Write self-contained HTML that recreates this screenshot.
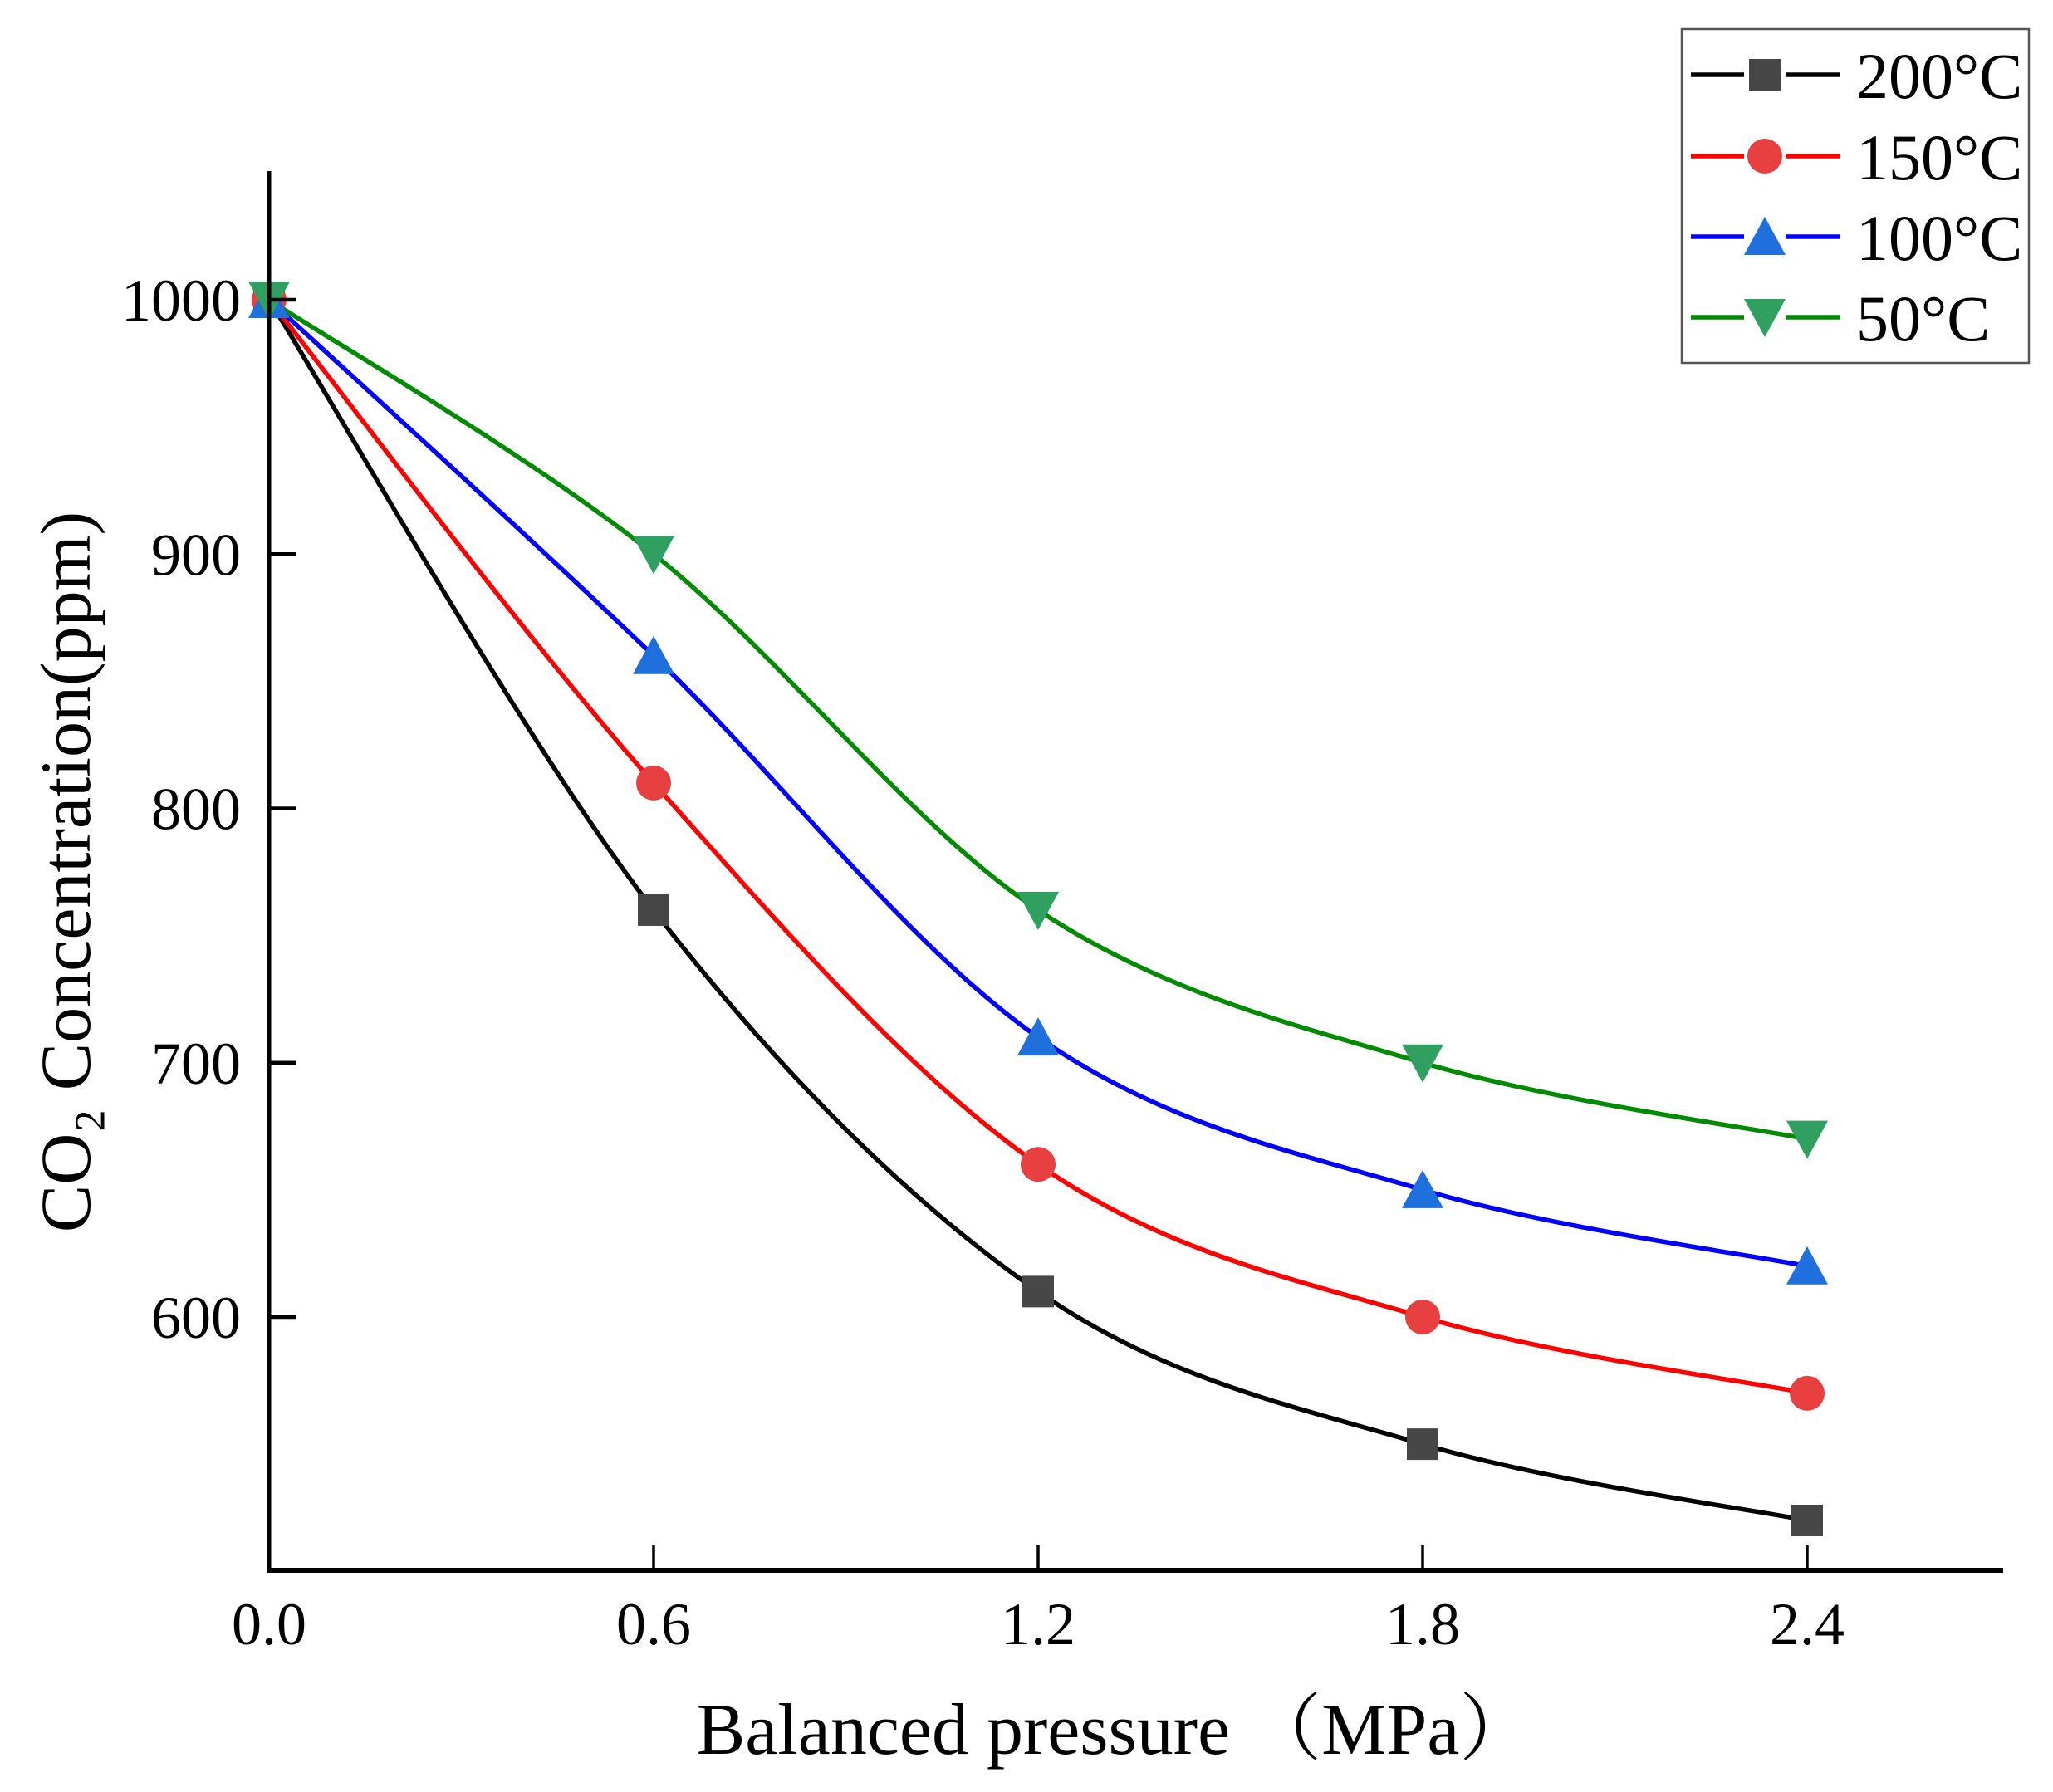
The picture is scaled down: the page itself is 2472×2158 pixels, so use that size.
<!DOCTYPE html>
<html><head><meta charset="utf-8"><style>
html,body{margin:0;padding:0;background:#fff;}
svg{display:block;font-family:"Liberation Serif",serif;}
</style></head><body>
<svg id="chart" width="2472" height="2158" viewBox="0 0 2472 2158">
<g id="plot"></g>
<g id="axes"></g>
<g id="legend"></g>
</svg>
<script>
const categories = [0, 0.6, 1.2, 1.8, 2.4];
const series200 = [1000, 760, 610, 550, 520];
const series150 = [1000, 810, 660, 600, 570];
const series100 = [1000, 860, 710, 650, 620];
const series50 = [1000, 900, 760, 700, 670];
const seriesNames = ["200°C", "150°C", "100°C", "50°C"];
const xTickValues = [0, 0.6, 1.2, 1.8, 2.4];
const xTickLabels = ["0.0", "0.6", "1.2", "1.8", "2.4"];
const yTickValues = [600, 700, 800, 900, 1000];
const yTickLabels = ["600", "700", "800", "900", "1000"];

const NS = "http://www.w3.org/2000/svg";
const X0 = 324, PX_PER = 463 / 0.6;
const Y1000 = 361, PY_PER = 3.0625;
function xs(v){ return X0 + v * PX_PER; }
function ys(v){ return Y1000 + (1000 - v) * PY_PER; }
function mk(tag, attrs, parent){
  const e = document.createElementNS(NS, tag);
  for (const k in attrs) e.setAttribute(k, attrs[k]);
  parent.appendChild(e); return e;
}
const plot = document.getElementById('plot');
const axes = document.getElementById('axes');
const legend = document.getElementById('legend');

const styles = [
  {line:"#000000", fill:"#474747", m:"square"},
  {line:"#ff0000", fill:"#e84040", m:"circle"},
  {line:"#0000ff", fill:"#1f6fdc", m:"up"},
  {line:"#008a00", fill:"#2fa060", m:"down"}
];
const allSeries = [series200, series150, series100, series50];

function marker(kind, cx, cy, fill, parent, scale){
  scale = scale || 1;
  let e;
  if (kind === "square") { const s = 38*scale; e = mk('rect', {x:cx-s/2, y:cy-s/2, width:s, height:s, fill:fill}, parent); }
  else if (kind === "circle") { e = mk('circle', {cx:cx, cy:cy, r:21*scale, fill:fill}, parent); }
  else if (kind === "up") { const w=25*scale,h=22*scale; e = mk('polygon', {points:`${cx-w},${cy+h} ${cx+w},${cy+h} ${cx},${cy-h-2}`, fill:fill}, parent); }
  else { const w=25*scale,h=22*scale; e = mk('polygon', {points:`${cx-w},${cy-h} ${cx+w},${cy-h} ${cx},${cy+h+2}`, fill:fill}, parent); }
  return e;
}

function splinePath(pts){
  let d = `M${pts[0][0]},${pts[0][1]}`;
  for (let i=0;i<pts.length-1;i++){
    const p0 = pts[Math.max(0,i-1)], p1 = pts[i], p2 = pts[i+1], p3 = pts[Math.min(pts.length-1,i+2)];
    const c1x = p1[0] + (p2[0]-p0[0])/6, c1y = p1[1] + (p2[1]-p0[1])/6;
    const c2x = p2[0] - (p3[0]-p1[0])/6, c2y = p2[1] - (p3[1]-p1[1])/6;
    d += ` C${c1x},${c1y} ${c2x},${c2y} ${p2[0]},${p2[1]}`;
  }
  return d;
}

allSeries.forEach((vals, si) => {
  const st = styles[si];
  const pts = categories.map((c,i)=>[xs(c), ys(vals[i])]);
  const p = mk('path', {d:splinePath(pts), fill:"none", stroke:st.line, "stroke-width":5.5}, plot);
  
  
});
allSeries.forEach((vals, si) => {
  const st = styles[si];
  categories.forEach((c,i)=>{
    const m = marker(st.m, xs(c), ys(vals[i]), st.fill, plot);
    
    
  });
});

// axes
const yAxis = mk('line', {x1:X0, y1:206, x2:X0, y2:1893, stroke:"#000", "stroke-width":5}, axes);


const xAxis = mk('line', {x1:X0-2, y1:1891, x2:2412, y2:1891, stroke:"#000", "stroke-width":6}, axes);



xTickValues.forEach((v,i)=>{
  if (v !== 0) {
    const t = mk('line', {x1:xs(v), y1:1891, x2:xs(v), y2:1861, stroke:"#000", "stroke-width":3.5}, axes);
    
    
  }
  const l = mk('text', {x:xs(v), y:1980, "text-anchor":"middle", "font-size":72, fill:"#000"}, axes);
  l.textContent = xTickLabels[i];
  
  
});
yTickValues.forEach((v,i)=>{
  const t = mk('line', {x1:X0, y1:ys(v), x2:X0+32, y2:ys(v), stroke:"#000", "stroke-width":4.5}, axes);
  
  
  const l = mk('text', {x:290, y:ys(v)+25, "text-anchor":"end", "font-size":72, fill:"#000"}, axes);
  l.textContent = yTickLabels[i];
  
  
});

const xt = mk('text', {x:1342, y:2112, "text-anchor":"middle", "font-size":88, fill:"#000"}, axes);
xt.textContent = "Balanced pressure （MPa）";
xt.setAttribute('font-family', '"Liberation Serif","Noto Serif CJK SC",serif');



const yt = mk('text', {x:0, y:0, "text-anchor":"middle", "font-size":86, fill:"#000", transform:"translate(108,1050) rotate(-90)"}, axes);
yt.textContent = "CO₂ Concentration(ppm)";



// legend
const box = mk('rect', {x:2025, y:35, width:418, height:402, fill:"#fff", stroke:"#555", "stroke-width":2.5}, legend);


const rowsY = [90, 188, 285, 382];
seriesNames.forEach((n,i)=>{
  const g = mk('g', {}, legend);
  
  
  mk('line', {x1:2036, y1:rowsY[i], x2:2216, y2:rowsY[i], stroke:styles[i].line, "stroke-width":5.5}, g);
  mk('rect', {x:2100, y:rowsY[i]-25, width:50, height:50, fill:"#fff"}, g);
  marker(styles[i].m, 2125, rowsY[i], styles[i].fill, g, 1.0);
  const t = mk('text', {x:2235, y:rowsY[i]+28, "font-size":78, fill:"#000"}, g);
  t.textContent = n;
});
</script>
</body></html>
